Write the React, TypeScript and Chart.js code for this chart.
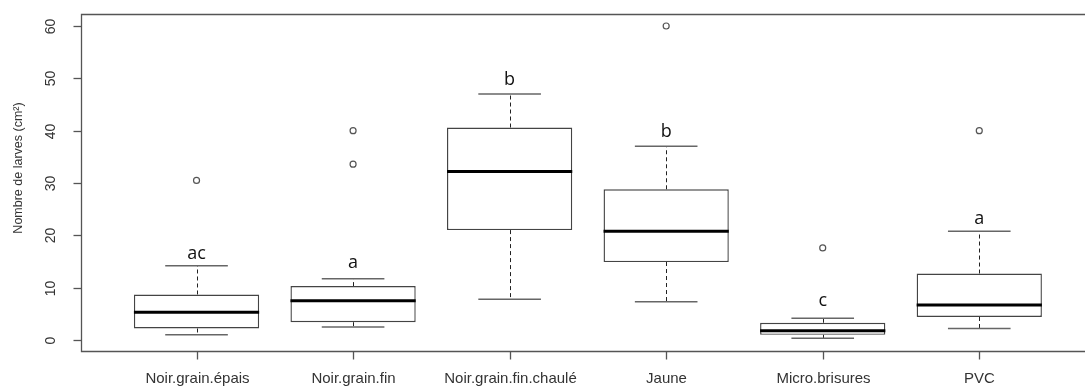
import React, { useEffect, useRef } from "react";
import { Chart, registerables } from "chart.js";

Chart.register(...registerables);

const categories = [
  "Noir.grain.épais",
  "Noir.grain.fin",
  "Noir.grain.fin.chaulé",
  "Jaune",
  "Micro.brisures",
  "PVC",
];
const lowerWhisker = [1.0, 2.5, 7.8, 7.3, 0.32, 2.2];
const q1 = [2.2, 3.4, 21.0, 14.9, 1.0, 4.4];
const median = [5.3, 7.5, 32.2, 20.8, 1.75, 6.7];
const q3 = [8.7, 10.3, 40.6, 28.8, 3.3, 12.7];
const upperWhisker = [14.2, 11.7, 47.0, 37.0, 4.15, 20.8];
const outlierCategory = [0, 1, 1, 3, 4, 5];
const outlierValue = [30.5, 40.0, 33.6, 60.0, 17.6, 40.0];
const letters = ["ac", "a", "b", "b", "c", "a"];
const letterY = [15.4, 13.8, 48.7, 38.7, 6.5, 22.2];
const yTicks = [0, 10, 20, 30, 40, 50, 60];
const yTitle = "Nombre de larves (cm²)";

const BOX_HALF = 0.4;
const CAP_HALF = 0.2;

const boxPlugin = {
  id: "boxExtras",
  beforeDatasetsDraw(chart: any) {
    const { ctx } = chart;
    const xs = chart.scales.x;
    const ys = chart.scales.y;
    ctx.save();
    categories.forEach((_, i) => {
      const cx = Math.round(xs.getPixelForValue(i)) + 0.5;
      ctx.strokeStyle = "#222";
      ctx.lineWidth = 1;
      ctx.setLineDash([4, 3]);
      ctx.beginPath();
      ctx.moveTo(cx, ys.getPixelForValue(q3[i]));
      ctx.lineTo(cx, ys.getPixelForValue(upperWhisker[i]));
      ctx.moveTo(cx, ys.getPixelForValue(q1[i]));
      ctx.lineTo(cx, ys.getPixelForValue(lowerWhisker[i]));
      ctx.stroke();
      ctx.setLineDash([]);
      ctx.strokeStyle = "#666";
      ctx.lineWidth = 1.5;
      const l = xs.getPixelForValue(i - CAP_HALF);
      const r = xs.getPixelForValue(i + CAP_HALF);
      [upperWhisker[i], lowerWhisker[i]].forEach((v) => {
        const y = ys.getPixelForValue(v);
        ctx.beginPath();
        ctx.moveTo(l, y);
        ctx.lineTo(r, y);
        ctx.stroke();
      });
    });
    ctx.restore();
  },
  afterDatasetsDraw(chart: any) {
    const { ctx } = chart;
    const xs = chart.scales.x;
    const ys = chart.scales.y;
    ctx.save();
    categories.forEach((_, i) => {
      const l = xs.getPixelForValue(i - BOX_HALF);
      const r = xs.getPixelForValue(i + BOX_HALF);
      const y = ys.getPixelForValue(median[i]);
      ctx.strokeStyle = "#000";
      ctx.lineWidth = 3;
      ctx.beginPath();
      ctx.moveTo(l, y);
      ctx.lineTo(r, y);
      ctx.stroke();
      ctx.fillStyle = "#111";
      ctx.font = "18px 'Open Sans', sans-serif";
      ctx.textAlign = "center";
      ctx.textBaseline = "alphabetic";
      ctx.fillText(letters[i], xs.getPixelForValue(i), ys.getPixelForValue(letterY[i]));
    });
    ctx.restore();
  },
  afterDraw(chart: any) {
    const { ctx, chartArea } = chart;
    const xs = chart.scales.x;
    const ys = chart.scales.y;
    const L = Math.round(chartArea.left) + 0.5;
    const T = Math.round(chartArea.top) + 0.5;
    const B = Math.round(chartArea.bottom) + 0.5;
    const R = chartArea.right;
    ctx.save();
    ctx.strokeStyle = "#555";
    ctx.lineWidth = 1.3;
    ctx.beginPath();
    ctx.moveTo(R, T);
    ctx.lineTo(L, T);
    ctx.lineTo(L, B);
    ctx.lineTo(R, B);
    ctx.stroke();
    ctx.fillStyle = "#333";
    ctx.font = "14px 'Liberation Sans', Arial, sans-serif";
    ctx.textAlign = "center";
    ctx.textBaseline = "middle";
    yTicks.forEach((t) => {
      const y = Math.round(ys.getPixelForValue(t)) + 0.5;
      ctx.beginPath();
      ctx.moveTo(L - 8, y);
      ctx.lineTo(L, y);
      ctx.stroke();
      ctx.save();
      ctx.translate(51, y);
      ctx.rotate(-Math.PI / 2);
      ctx.fillText(String(t), 0, 0);
      ctx.restore();
    });
    ctx.font = "15px 'Liberation Sans', Arial, sans-serif";
    categories.forEach((c, i) => {
      const x = Math.round(xs.getPixelForValue(i)) + 0.5;
      ctx.beginPath();
      ctx.moveTo(x, B);
      ctx.lineTo(x, B + 8);
      ctx.stroke();
      ctx.fillText(c, x, 379);
    });
    ctx.font = "12.5px 'Liberation Sans', Arial, sans-serif";
    ctx.save();
    ctx.translate(19, 168);
    ctx.rotate(-Math.PI / 2);
    ctx.fillText(yTitle, 0, 0);
    ctx.restore();
    ctx.restore();
  },
};

export default function App() {
  const ref = useRef<HTMLCanvasElement>(null);
  useEffect(() => {
    document.body.style.margin = "0";
    const canvas = ref.current!;
    const chart = new Chart(canvas, {
      type: "bar",
      data: {
        datasets: [
          {
            type: "bar",
            data: categories.map((_, i) => ({ x: i, y: [q1[i], q3[i]] })) as any,
            backgroundColor: "#ffffff",
            borderColor: "#444",
            borderWidth: 1.4,
            borderSkipped: false,
            barPercentage: 0.8,
            categoryPercentage: 1,
          } as any,
          {
            type: "scatter",
            data: outlierValue.map((v, k) => ({ x: outlierCategory[k], y: v })),
            pointRadius: 3,
            pointBorderWidth: 1.2,
            pointBorderColor: "#555",
            pointBackgroundColor: "#fff",
            showLine: false,
          } as any,
        ],
      },
      options: {
        animation: false,
        responsive: false,
        devicePixelRatio: 1,
        layout: { padding: { left: 81, top: 14, right: 4.4, bottom: 36 } },
        plugins: { legend: { display: false }, tooltip: { enabled: false } },
        scales: {
          x: {
            type: "linear",
            offset: false,
            min: -0.738,
            max: 5.738,
            display: false,
            afterBuildTicks: (s: any) => {
              s.ticks = categories.map((_, i) => ({ value: i }));
            },
          },
          y: { type: "linear", min: -2.1, max: 62.29, display: false },
        },
      },
      plugins: [boxPlugin],
    });
    return () => chart.destroy();
  }, []);
  return (
    <div
      style={{
        position: "fixed",
        left: 0,
        top: 0,
        width: 1085,
        height: 387,
        overflow: "hidden",
        background: "#fff",
      }}
    >
      <canvas ref={ref} width={1100} height={387} style={{ width: 1100, height: 387, display: "block" }} />
    </div>
  );
}
